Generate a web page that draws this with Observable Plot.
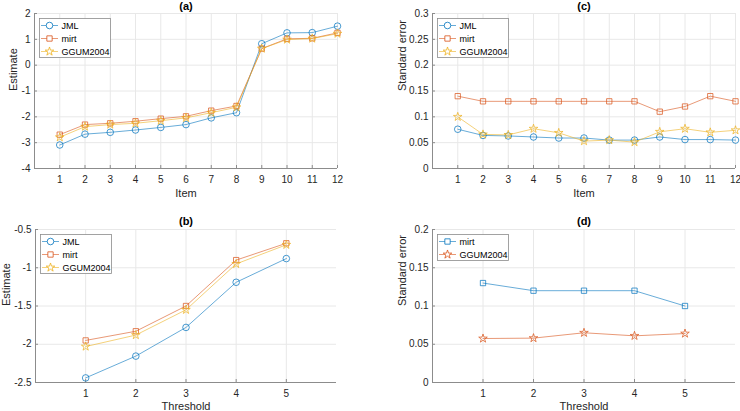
<!DOCTYPE html>
<html><head><meta charset="utf-8">
<script src="https://cdn.jsdelivr.net/npm/d3@7"></script>
<script src="https://cdn.jsdelivr.net/npm/@observablehq/plot@0.6"></script>
<style>
body{margin:0;background:#fff;}
#root{position:relative;width:740px;height:411px;background:#fff;font-family:"Liberation Sans",Arial,sans-serif;}
.panel{position:absolute;}
.panel svg{overflow:visible;max-width:none !important;}
</style></head><body><div id="root"></div>
<script>
// ---------- data ----------
const items = [1,2,3,4,5,6,7,8,9,10,11,12];
const thresholds = [1,2,3,4,5];

const estJML  = [-3.09,-2.67,-2.60,-2.51,-2.41,-2.30,-2.04,-1.84,0.83,1.25,1.26,1.51];
const estMirt = [-2.69,-2.30,-2.25,-2.17,-2.07,-1.98,-1.76,-1.58,0.64,1.02,1.04,1.25];
const estGGUM = [-2.79,-2.38,-2.30,-2.25,-2.15,-2.04,-1.84,-1.63,0.64,0.99,1.03,1.22];

const seJML  = [0.076,0.064,0.063,0.061,0.059,0.059,0.055,0.055,0.061,0.056,0.056,0.055];
const seMirt = [0.14,0.13,0.13,0.13,0.13,0.13,0.13,0.13,0.11,0.12,0.14,0.13];
const seGGUM = [0.100,0.066,0.065,0.077,0.069,0.053,0.055,0.051,0.071,0.077,0.070,0.074];

const thrJML  = [-2.44,-2.155,-1.78,-1.19,-0.88];
const thrMirt = [-1.95,-1.83,-1.50,-0.90,-0.68];
const thrGGUM = [-2.03,-1.88,-1.55,-0.95,-0.70];

const thrSeMirt = [0.13,0.12,0.12,0.12,0.10];
const thrSeGGUM = [0.0575,0.058,0.065,0.061,0.064];

const yTicksA = [-4,-3,-2,-1,0,1,2];
const yTicksB = [-2.5,-2,-1.5,-1,-0.5];
const yTicksC = [0,0.05,0.1,0.15,0.2,0.25,0.3];
const yTicksD = [0,0.05,0.1,0.15,0.2];

const C1 = "#0072BD", C2 = "#D95319", C3 = "#EDB120";
const SYM = {circle: {symbol: "circle", r: 3.3}, square: {symbol: "square", r: 3}, star: {symbol: "star", r: 2.7}};
const AXIS = "#8c8c8c", TXT = "#262626";

// ---------- panel builder ----------
function panel(cfg) {
  const marks = [
    Plot.gridX(cfg.xTicks, {stroke: "#e8e8e8", strokeOpacity: 1}),
    Plot.gridY(cfg.yTicks, {stroke: "#e8e8e8", strokeOpacity: 1}),
    Plot.ruleX([cfg.xDomain[0]], {stroke: AXIS}),
    Plot.ruleY([cfg.yDomain[0]], {stroke: AXIS}),
    // inward tick marks (no labels)
    Plot.axisX(cfg.xTicks, {tickSize: -3, tickFormat: () => "", stroke: AXIS, label: null}),
    Plot.axisY(cfg.yTicks, {tickSize: -3, tickFormat: () => "", stroke: AXIS, label: null}),
    // tick labels
    Plot.axisX(cfg.xTicks, {tickSize: 0, tickPadding: 7.5, fill: TXT, fontSize: 10, label: null}),
    Plot.axisY(cfg.yTicks, {tickSize: 0, tickPadding: 4, fill: TXT, fontSize: 10, label: null, tickFormat: d => String(d)}),
  ];
  for (const s of cfg.series) {
    const rows = cfg.x.map((x, i) => ({x, y: s.y[i]}));
    marks.push(Plot.line(rows, {x: "x", y: "y", stroke: s.color, strokeWidth: 0.7, strokeOpacity: 0.85}));
    marks.push(Plot.dot(rows, {x: "x", y: "y", stroke: s.color, fill: "none", strokeWidth: 0.8, strokeOpacity: 0.9, symbol: SYM[s.marker].symbol, r: SYM[s.marker].r}));
  }
  marks.push(Plot.text([cfg.title], {frameAnchor: "top", dy: cfg.titleDy, text: d => d, fontWeight: "bold", fontSize: 11, fill: "#000", lineAnchor: "middle"}));
  marks.push(Plot.text([cfg.xLabel], {frameAnchor: "bottom", dy: cfg.xLabelDy, text: d => d, fontSize: 11, fill: TXT, lineAnchor: "middle"}));
  marks.push(Plot.text([cfg.yLabel], {frameAnchor: "left", dx: cfg.yLabelDx, rotate: -90, text: d => d, fontSize: 11, fill: TXT, lineAnchor: "middle"}));

  const svg = Plot.plot({
    width: cfg.width, height: cfg.height,
    marginLeft: cfg.m[0], marginRight: cfg.m[1], marginTop: cfg.m[2], marginBottom: cfg.m[3],
    style: {fontFamily: '"Liberation Sans", Arial, sans-serif', background: "transparent", maxWidth: "none"},
    x: {domain: cfg.xDomain},
    y: {domain: cfg.yDomain},
    marks
  });
  const div = document.createElement("div");
  div.className = "panel";
  div.style.left = cfg.left + "px";
  div.style.top = cfg.top + "px";
  div.style.width = cfg.width + "px";
  div.style.height = cfg.height + "px";
  div.appendChild(svg);

  // legend
  const n = cfg.series.length;
  const lw = 71, rowH = 13, lh = n * rowH;
  const lg = d3.create("svg").attr("width", lw + 2).attr("height", lh + 2)
    .style("position", "absolute").style("left", (cfg.m[0] + 5) + "px").style("top", (cfg.m[2] + 5) + "px")
    .style("overflow", "visible");
  lg.append("rect").attr("x", 0.5).attr("y", 0.5).attr("width", lw).attr("height", lh)
    .attr("fill", "#fff").attr("stroke", AXIS).attr("stroke-width", 0.8);
  cfg.series.forEach((s, i) => {
    const cy = 0.5 + rowH * i + rowH / 2 + 0.5;
    const g = lg.append("g");
    g.append("line").attr("x1", 2).attr("x2", 19).attr("y1", cy).attr("y2", cy)
      .attr("stroke", s.color).attr("stroke-width", 0.7).attr("stroke-opacity", 0.85);
    const sm = SYM[s.marker];
    const type = sm.symbol === "circle" ? d3.symbolCircle : sm.symbol === "square" ? d3.symbolSquare : d3.symbolStar;
    g.append("path").attr("d", d3.symbol(type, Math.PI * sm.r * sm.r)())
      .attr("transform", `translate(10.5,${cy})`).attr("fill", "#fff").attr("stroke", s.color).attr("stroke-width", 0.8);
    g.append("text").attr("x", 22.5).attr("y", cy).attr("dy", "0.35em")
      .attr("font-size", 9).attr("fill", "#000").attr("font-family", '"Liberation Sans", Arial, sans-serif').text(s.name);
  });
  div.appendChild(lg.node());
  document.getElementById("root").appendChild(div);
}

panel({
  left: 0, top: 0, width: 370, height: 205, m: [34, 33, 13, 37],
  xDomain: [0, 12], xTicks: items, yDomain: [-4, 2], yTicks: yTicksA, x: items,
  series: [
    {name: "JML", y: estJML, color: C1, marker: "circle"},
    {name: "mirt", y: estMirt, color: C2, marker: "square"},
    {name: "GGUM2004", y: estGGUM, color: C3, marker: "star"}
  ],
  title: "(a)", titleDy: -7.5, xLabel: "Item", xLabelDy: 24.5, yLabel: "Estimate", yLabelDx: -21.5
});

panel({
  left: 370, top: 0, width: 370, height: 205, m: [62, 5, 13, 37],
  xDomain: [0, 12], xTicks: items, yDomain: [0, 0.3], yTicks: yTicksC, x: items,
  series: [
    {name: "JML", y: seJML, color: C1, marker: "circle"},
    {name: "mirt", y: seMirt, color: C2, marker: "square"},
    {name: "GGUM2004", y: seGGUM, color: C3, marker: "star"}
  ],
  title: "(c)", titleDy: -7.5, xLabel: "Item", xLabelDy: 24.5, yLabel: "Standard error", yLabelDx: -30.5
});

panel({
  left: 0, top: 205, width: 370, height: 206, m: [35, 34, 24, 29],
  xDomain: [0, 6], xTicks: thresholds, yDomain: [-2.5, -0.5], yTicks: yTicksB, x: thresholds,
  series: [
    {name: "JML", y: thrJML, color: C1, marker: "circle"},
    {name: "mirt", y: thrMirt, color: C2, marker: "square"},
    {name: "GGUM2004", y: thrGGUM, color: C3, marker: "star"}
  ],
  title: "(b)", titleDy: -8, xLabelDy: 23.8, xLabel: "Threshold", yLabel: "Estimate", yLabelDx: -29
});

panel({
  left: 370, top: 205, width: 370, height: 206, m: [62, 5, 24, 29],
  xDomain: [0, 6], xTicks: thresholds, yDomain: [0, 0.2], yTicks: yTicksD, x: thresholds,
  series: [
    {name: "mirt", y: thrSeMirt, color: C1, marker: "square"},
    {name: "GGUM2004", y: thrSeGGUM, color: C2, marker: "star"}
  ],
  title: "(d)", titleDy: -8, xLabelDy: 23.8, xLabel: "Threshold", yLabel: "Standard error", yLabelDx: -30.5
});
</script>
</body></html>
